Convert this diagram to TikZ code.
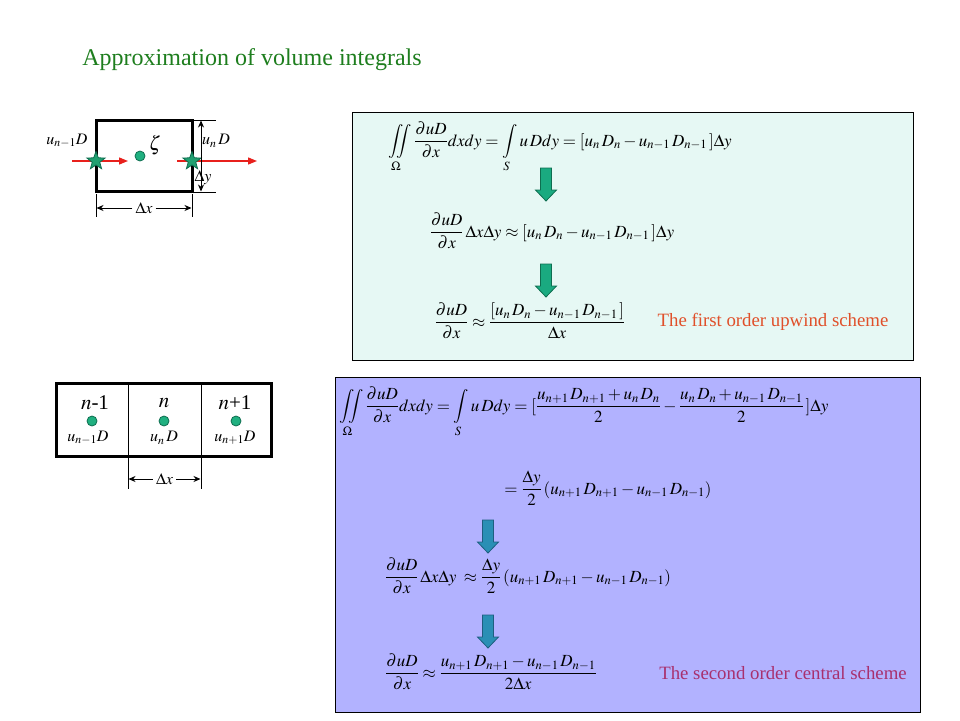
\documentclass[tikz,border=0pt]{standalone}
\usepackage{amsmath}
\usepackage{mathptmx}
\usepackage{fontspec}
\setmainfont{Liberation Serif}
\usetikzlibrary{shapes.geometric,arrows.meta}
\definecolor{titlegreen}{RGB}{30,126,30}
\definecolor{cyanbg}{RGB}{230,248,244}
\definecolor{lavbg}{RGB}{178,178,255}
\definecolor{garrowfill}{RGB}{26,170,128}
\definecolor{garrowline}{RGB}{14,110,80}
\definecolor{barrowfill}{RGB}{42,143,181}
\definecolor{barrowline}{RGB}{30,94,128}
\definecolor{stargreen}{RGB}{32,160,112}
\definecolor{dotgreen}{RGB}{32,176,128}
\definecolor{flowred}{RGB}{232,32,28}
\definecolor{upwindred}{RGB}{224,80,42}
\definecolor{centralpurple}{RGB}{168,48,110}
\begin{document}
\begin{tikzpicture}[x=1pt,y=-1pt,
  title/.style={inner sep=0pt, text=titlegreen, font=\fontsize{24}{28}\selectfont},
  eqn/.style={inner sep=0pt, anchor=base, font=\fontsize{17}{21}\selectfont},
  lbl/.style={inner sep=0pt, font=\fontsize{16}{19}\selectfont},
  biglbl/.style={inner sep=0pt, font=\fontsize{21}{25}\selectfont},
  scheme/.style={inner sep=0pt, font=\fontsize{18.8}{22}\selectfont},
  cellbox/.style={draw, line width=3pt, inner sep=0pt, outer sep=0pt},
  panel/.style={draw, line width=1pt, inner sep=0pt, outer sep=0pt},
  dot/.style={circle, draw=garrowline, fill=dotgreen, line width=0.8pt, minimum size=10pt, inner sep=0pt},
  starnode/.style={star, star points=5, star point ratio=2.4, draw=garrowline, fill=stargreen, line width=0.8pt, minimum size=19pt, inner sep=0pt},
  flow/.style={draw=flowred, line width=1.3pt, -{Triangle[length=9pt,width=7pt]}},
  dimline/.style={line width=0.8pt, -{Stealth[length=7pt,width=6pt]}},
  dimboth/.style={line width=0.8pt, {Stealth[length=7pt,width=6pt]}-{Stealth[length=7pt,width=6pt]}},
  ext/.style={line width=0.6pt},
  dnarrow/.pic={\path[pic actions, line width=0.8pt] (-5.5,0) -- (5.5,0) -- (5.5,22) -- (10.5,22) -- (0,33) -- (-10.5,22) -- (-5.5,22) -- cycle;}
]
\useasboundingbox (0,0) rectangle (960,720);
\fill[white] (0,0) rectangle (960,720);

% title
\node[title] (title) at (252,60) {Approximation of volume integrals};

% ---------- top-left control volume ----------
\coordinate (flA) at (72,161);
\coordinate (flB) at (128,161);
\coordinate (frA) at (177,161);
\coordinate (frB) at (257,161);
\draw[flow] (flA) -- (flB);
\draw[flow] (frA) -- (frB);
\node[cellbox, minimum width=96pt, minimum height=71pt] (cv) at (144,155.5) {};
\node[starnode] (sw) at (96,161) {};
\node[starnode] (se) at (192,161) {};
\node[dot] (zc) at (140,156) {};
\node[lbl, font=\fontsize{20}{24}\selectfont] (zeta) at (155,145) {$\zeta$};
\node[lbl] (uwl) at (67,141) {$u_{n-1}D$};
\node[lbl] (uel) at (216,141) {$u_n\,D$};
% delta y
\coordinate (eT1) at (194,120); \coordinate (eT2) at (216,120);
\coordinate (eB1) at (194,192); \coordinate (eB2) at (216,192);
\draw[ext] (eT1) -- (eT2);
\draw[ext] (eB1) -- (eB2);
\coordinate (dyT) at (201,120.5); \coordinate (dyB) at (201,191.5);
\draw[dimboth] (dyT) -- (dyB);
\node[lbl] (dyl) at (203,178) {$\Delta y$};
% delta x
\coordinate (tL1) at (96,194); \coordinate (tL2) at (96,217);
\coordinate (tR1) at (192,194); \coordinate (tR2) at (192,217);
\draw[ext] (tL1) -- (tL2);
\draw[ext] (tR1) -- (tR2);
\node[lbl, inner xsep=3pt] (dxl) at (144,208) {$\Delta x$};
\coordinate (dxL) at (96.5,208); \coordinate (dxR) at (191.5,208);
\draw[dimline] (dxl) -- (dxL);
\draw[dimline] (dxl) -- (dxR);

% ---------- bottom-left row of cells ----------
\node[cellbox, minimum width=215pt, minimum height=73pt] (row) at (163.5,419.5) {};
\coordinate (d1T) at (128,383); \coordinate (d1B) at (128,456);
\coordinate (d2T) at (201,383); \coordinate (d2B) at (201,456);
\draw[line width=0.8pt] (d1T) -- (d1B);
\draw[line width=0.8pt] (d2T) -- (d2B);
\node[biglbl] (nm1) at (95,403) {$n$-1};
\node[biglbl] (n0) at (164,403) {$n$};
\node[biglbl] (np1) at (235,403) {$n$+1};
\node[dot] (c1) at (92,421) {};
\node[dot] (c2) at (164,421) {};
\node[dot] (c3) at (236,421) {};
\node[lbl] (u1) at (88,438) {$u_{n-1}D$};
\node[lbl] (u2) at (164,438) {$u_n\,D$};
\node[lbl] (u3) at (235,438) {$u_{n+1}D$};
\coordinate (bL1) at (128,458); \coordinate (bL2) at (128,489);
\coordinate (bR1) at (201,458); \coordinate (bR2) at (201,489);
\draw[ext] (bL1) -- (bL2);
\draw[ext] (bR1) -- (bR2);
\node[lbl, inner xsep=3pt] (bdx) at (164.5,479) {$\Delta x$};
\coordinate (bdxL) at (128.5,479); \coordinate (bdxR) at (200.5,479);
\draw[dimline] (bdx) -- (bdxL);
\draw[dimline] (bdx) -- (bdxR);

% ---------- top-right panel ----------
\node[panel, fill=cyanbg, minimum width=561pt, minimum height=248pt] (p1) at (632.5,236) {};
\node[eqn] (t1) at (560,146) {$\displaystyle \iint\limits_{\Omega}\frac{\partial uD}{\partial x}dxdy=\int\limits_{S}u\,Ddy=[u_n\,D_n-u_{n-1}\,D_{n-1}\,]\Delta y$};
\pic[fill=garrowfill, draw=garrowline] at (546,168) {dnarrow};
\node[eqn] (t2) at (552,237) {$\displaystyle \frac{\partial uD}{\partial x}\,\Delta x\Delta y\approx[u_n\,D_n-u_{n-1}\,D_{n-1}\,]\Delta y$};
\pic[fill=garrowfill, draw=garrowline] at (546,264) {dnarrow};
\node[eqn] (t3) at (530,327) {$\displaystyle \frac{\partial uD}{\partial x}\approx\frac{[u_n\,D_n-u_{n-1}\,D_{n-1}\,]}{\Delta x}$};
\node[scheme, text=upwindred] (s1) at (773,322) {The first order upwind scheme};

% ---------- bottom-right panel ----------
\node[panel, fill=lavbg, minimum width=585pt, minimum height=335pt] (p2) at (627.5,544.5) {};
\node[eqn] (b1) at (584,411) {$\displaystyle \iint\limits_{\Omega}\frac{\partial uD}{\partial x}dxdy=\int\limits_{S}u\,Ddy=[\frac{u_{n+1}\,D_{n+1}+u_n\,D_n}{2}-\frac{u_n\,D_n+u_{n-1}\,D_{n-1}}{2}\,]\Delta y$};
\node[eqn] (b2) at (608,494) {$\displaystyle =\frac{\Delta y}{2}\,(u_{n+1}\,D_{n+1}-u_{n-1}\,D_{n-1})$};
\pic[fill=barrowfill, draw=barrowline] at (488,520) {dnarrow};
\node[eqn] (b3) at (528,582) {$\displaystyle \frac{\partial uD}{\partial x}\,\Delta x\Delta y\;\approx\frac{\Delta y}{2}\,(u_{n+1}\,D_{n+1}-u_{n-1}\,D_{n-1})$};
\pic[fill=barrowfill, draw=barrowline] at (488,615) {dnarrow};
\node[eqn] (b4) at (491,678) {$\displaystyle \frac{\partial uD}{\partial x}\approx\frac{u_{n+1}\,D_{n+1}-u_{n-1}\,D_{n-1}}{2\Delta x}$};
\node[scheme, text=centralpurple] (s2) at (783,673) {The second order central scheme};
\end{tikzpicture}
\end{document}
